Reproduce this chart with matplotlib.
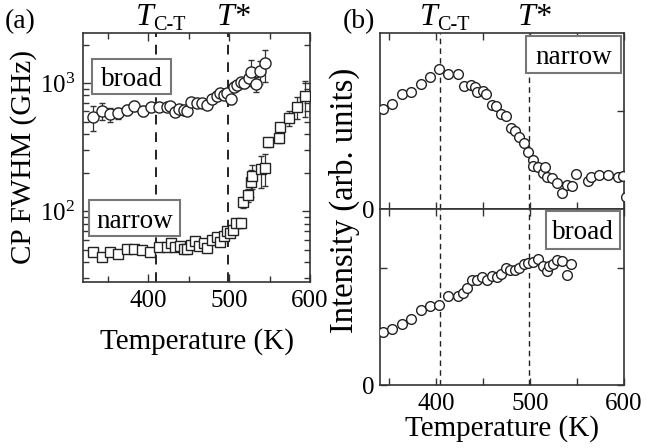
import matplotlib
matplotlib.use('Agg')
import matplotlib.pyplot as plt
from matplotlib.patches import Rectangle
from matplotlib.ticker import FixedLocator, FixedFormatter, NullFormatter

plt.rcParams['font.family'] = ['Liberation Serif', 'DejaVu Serif']
plt.rcParams['mathtext.fontset'] = 'custom'
plt.rcParams['mathtext.rm'] = 'Liberation Serif'
plt.rcParams['mathtext.it'] = 'Liberation Serif:italic'

# ---------------- data ----------------
# panel (a): CP FWHM (GHz), log scale
broad_T = [332.4, 342.8, 353.0, 363.4, 373.8, 382.8, 393.6, 403.5, 413.4, 423.3,
           427.4, 433.6, 437.7, 443.9, 448.0, 453.5, 460.5, 466.7, 472.9, 479.1,
           485.3, 489.4, 493.5, 497.7, 503.0, 505.9, 510.0, 514.2, 519.1, 524.5,
           527.4, 532.8, 538.1, 543.9]
broad_w = [540, 604, 569, 580, 615, 665, 604, 646, 646, 646,
           661, 590, 630, 615, 604, 714, 702, 702, 673, 746,
           796, 831, 806, 831, 746, 935, 964, 1011, 994, 1088,
           1227, 977, 1241, 1426]
broad_err = [120, 90, 70, 60, 55, 60, 55, 45, 45, 45,
             40, 40, 40, 40, 40, 30, 30, 30, 30, 35,
             40, 40, 45, 50, 60, 60, 60, 70, 80, 100,
             280, 130, 250, 400]

narrow_T = [332.4, 342.8, 353.0, 363.4, 373.8, 382.8, 392.3, 402.6, 412.9, 423.3,
            428.3, 433.6, 438.9, 443.9, 448.1, 453.5, 458.4, 462.5, 468.7, 472.9,
            479.1, 485.3, 488.5, 493.5, 497.7, 501.8, 505.1, 509.2, 514.2, 517.5,
            523.2, 527.4, 528.7, 539.0, 543.9, 548.0, 561.6, 562.9, 574.0, 583.6,
            593.5]
narrow_w = [48.1, 44.0, 48.1, 46.1, 51.1, 51.1, 49.5, 48.1, 52.6, 52.6,
            56.9, 52.6, 53.6, 50.3, 50.3, 54.2, 58.6, 53.3, 56.5, 51.7,
            60.1, 63.0, 57.5, 63.8, 70.2, 67.0, 71.9, 80.2, 80.2, 118,
            133, 169, 189, 212, 218, 344, 370, 456, 536, 653,
            791]
narrow_err = [3, 3, 3, 3, 3, 3, 3, 3, 3, 3,
              3, 3, 3, 3, 3, 3, 3, 3, 3, 3,
              3, 3, 3, 3, 4, 4, 5, 5, 6, 12,
              15, 40, 40, 60, 60, 25, 30, 30, 70, 130,
              250]

# panel (b): intensities (arb. units)
int_narrow_T = [342.8, 353.1, 363.1, 372.7, 383.3, 393.3, 402.9, 412.8, 423.5, 429.5,
                436.6, 441.2, 443.7, 449.4, 452.9, 459.0, 463.6, 468.6, 474.0, 479.3,
                483.9, 488.5, 493.4, 498.0, 502.7, 503.4, 508.7, 513.4, 515.8, 518.3,
                523.6, 528.9, 533.6, 538.9, 544.2, 548.8, 561.9, 564.5, 573.7, 583.3,
                593.9, 599.2, 602.6]
int_narrow = [1.019, 1.074, 1.176, 1.193, 1.275, 1.353, 1.431, 1.377, 1.377, 1.261,
              1.268, 1.244, 1.200, 1.210, 1.176, 1.063, 1.053, 0.971, 0.951, 0.832,
              0.801, 0.733, 0.672, 0.583, 0.501, 0.440, 0.433, 0.371, 0.426, 0.330,
              0.314, 0.263, 0.167, 0.245, 0.235, 0.355, 0.289, 0.330, 0.348, 0.348,
              0.330, 0.337, 0.126]

int_broad_T = [342.8, 353.1, 363.1, 372.7, 383.3, 393.3, 402.9, 412.8, 422.8, 428.8,
               433.0, 438.4, 443.0, 448.4, 453.7, 459.0, 464.3, 468.6, 474.0, 478.5,
               483.8, 488.5, 493.4, 498.0, 502.7, 508.7, 513.4, 517.6, 520.4, 524.7,
               528.9, 533.6, 538.9, 543.1]
int_broad = [0.451, 0.480, 0.523, 0.563, 0.643, 0.677, 0.683, 0.757, 0.757, 0.786,
             0.829, 0.891, 0.894, 0.920, 0.891, 0.928, 0.923, 0.943, 0.994, 0.977,
             0.977, 0.994, 1.034, 1.037, 1.048, 1.077, 1.014, 0.971, 1.014, 1.034,
             1.063, 1.057, 0.934, 1.034]

T_CT_a, T_star_a = 410, 499
T_CT_b, T_star_b = 404, 499

# ---------------- figure ----------------
W, H = 646, 448
fig = plt.figure(figsize=(W / 100, H / 100), dpi=100)

def px_axes(l, t, r, b):
    return fig.add_axes([l / W, 1 - b / H, (r - l) / W, (b - t) / H])

axa = px_axes(83.3, 33, 310, 282)
axb1 = px_axes(380, 33, 624, 209)
axb2 = px_axes(380, 209, 624, 385)

spine_col = '#333333'
for ax in (axa, axb1, axb2):
    for s in ax.spines.values():
        s.set_color(spine_col)
        s.set_linewidth(1.2)
    ax.tick_params(which='both', direction='in', top=True, right=True,
                   labelsize=18, color=spine_col, pad=6)
    ax.tick_params(which='major', length=6, width=1)
    ax.tick_params(which='minor', length=4, width=1)

# ---- panel (a)
axa.set_yscale('log')
axa.set_xlim(320, 600)
axa.set_ylim(28, 2460)
axa.xaxis.set_major_locator(FixedLocator([400, 500, 600]))
axa.xaxis.set_minor_locator(FixedLocator([350, 450, 550]))
axa.yaxis.set_major_locator(FixedLocator([100, 1000]))
axa.yaxis.set_major_formatter(FixedFormatter([r'$10^{2}$', r'$10^{3}$']))
axa.yaxis.set_minor_locator(FixedLocator([30, 40, 50, 60, 70, 80, 90,
                                          200, 300, 400, 500, 600, 700, 800, 900, 2000]))
axa.yaxis.set_minor_formatter(NullFormatter())

for t in (T_CT_a, T_star_a):
    axa.axvline(t, color='#222222', lw=1.4, ls=(0, (5, 4)), zorder=1)

axa.errorbar(broad_T, broad_w, yerr=broad_err, fmt='o', ms=8, mfc='white',
             mec='#222222', mew=1.0, ecolor='#333333', elinewidth=0.9,
             capsize=2.5, capthick=0.9, zorder=3)
axa.errorbar(narrow_T, narrow_w, yerr=narrow_err, fmt='s', ms=7, mfc='white',
             mec='#222222', mew=1.0, ecolor='#333333', elinewidth=0.9,
             capsize=2.5, capthick=0.9, zorder=3)

axa.set_xlabel('Temperature (K)', fontsize=21, labelpad=11)
axa.set_ylabel('CP FWHM (GHz)', fontsize=21, labelpad=2)

def label_box(ax, x0, y0, x1, y1, text, fs=19.5):
    ax.add_patch(Rectangle((x0, y0), x1 - x0, y1 - y0, transform=ax.transAxes,
                           fc='white', ec='#777777', lw=1.5, zorder=5))
    ax.text((x0 + x1) / 2, (y0 + y1) / 2, text, transform=ax.transAxes,
            ha='center', va='center_baseline', fontsize=fs, zorder=6)

label_box(axa, 0.038, 0.755, 0.387, 0.896, 'broad')
label_box(axa, 0.026, 0.185, 0.427, 0.329, 'narrow')

# ---- panel (b)
for ax in (axb1, axb2):
    ax.set_xlim(340, 600)
    ax.xaxis.set_major_locator(FixedLocator([400, 500, 600]))
    ax.xaxis.set_minor_locator(FixedLocator([350, 450, 550]))
    ax.tick_params(which='major', length=5)
    ax.tick_params(which='minor', length=5)
axb1.set_ylim(0, 1.8)
axb2.set_ylim(0, 1.5)
for ax in (axb1, axb2):
    ax.yaxis.set_major_locator(FixedLocator([0, 1.0]))
    ax.yaxis.set_major_formatter(FixedFormatter(['0', '']))
    ax.tick_params(axis='y', pad=4)
axb1.tick_params(labelbottom=False)
for ax in (axb1, axb2):
    for t in (T_CT_b, T_star_b):
        ax.axvline(t, color='#222222', lw=1.0, ls=(0, (4, 3)), zorder=1)

axb1.plot(int_narrow_T, int_narrow, 'o', ms=7, mfc='white', mec='#222222',
          mew=1.0, clip_on=True, zorder=3)
axb2.plot(int_broad_T, int_broad, 'o', ms=7, mfc='white', mec='#222222',
          mew=1.0, zorder=3)

label_box(axb1, 0.600, 0.774, 0.988, 0.983, 'narrow')
label_box(axb2, 0.679, 0.775, 0.984, 0.987, 'broad')

axb2.set_xlabel('Temperature (K)', fontsize=21, labelpad=0)
fig.text(344 / W, 1 - 200 / H, 'Intensity (arb. units)', rotation=90,
         ha='center', va='center', fontsize=23.5)

# ---- top annotations
def t_labels(ax, tct, tstar):
    ax.annotate('T', xy=(tct, 1), xycoords=('data', 'axes fraction'),
                xytext=(-2, 6), textcoords='offset points', ha='right',
                va='baseline', fontsize=23, style='italic', annotation_clip=False)
    ax.annotate('C-T', xy=(tct, 1), xycoords=('data', 'axes fraction'),
                xytext=(-2, 2.5), textcoords='offset points', ha='left',
                va='baseline', fontsize=14.5, annotation_clip=False)
    ax.annotate('T*', xy=(tstar, 1), xycoords=('data', 'axes fraction'),
                xytext=(4, 6), textcoords='offset points', ha='center',
                va='baseline', fontsize=23, style='italic', annotation_clip=False)

t_labels(axa, T_CT_a, T_star_a)
t_labels(axb1, T_CT_b, T_star_b)

fig.text(5 / W, 1 - 22 / H, '(a)', fontsize=20, ha='left', va='center')
fig.text(343 / W, 1 - 22 / H, '(b)', fontsize=20, ha='left', va='center')

fig.savefig('out.png', dpi=100)
